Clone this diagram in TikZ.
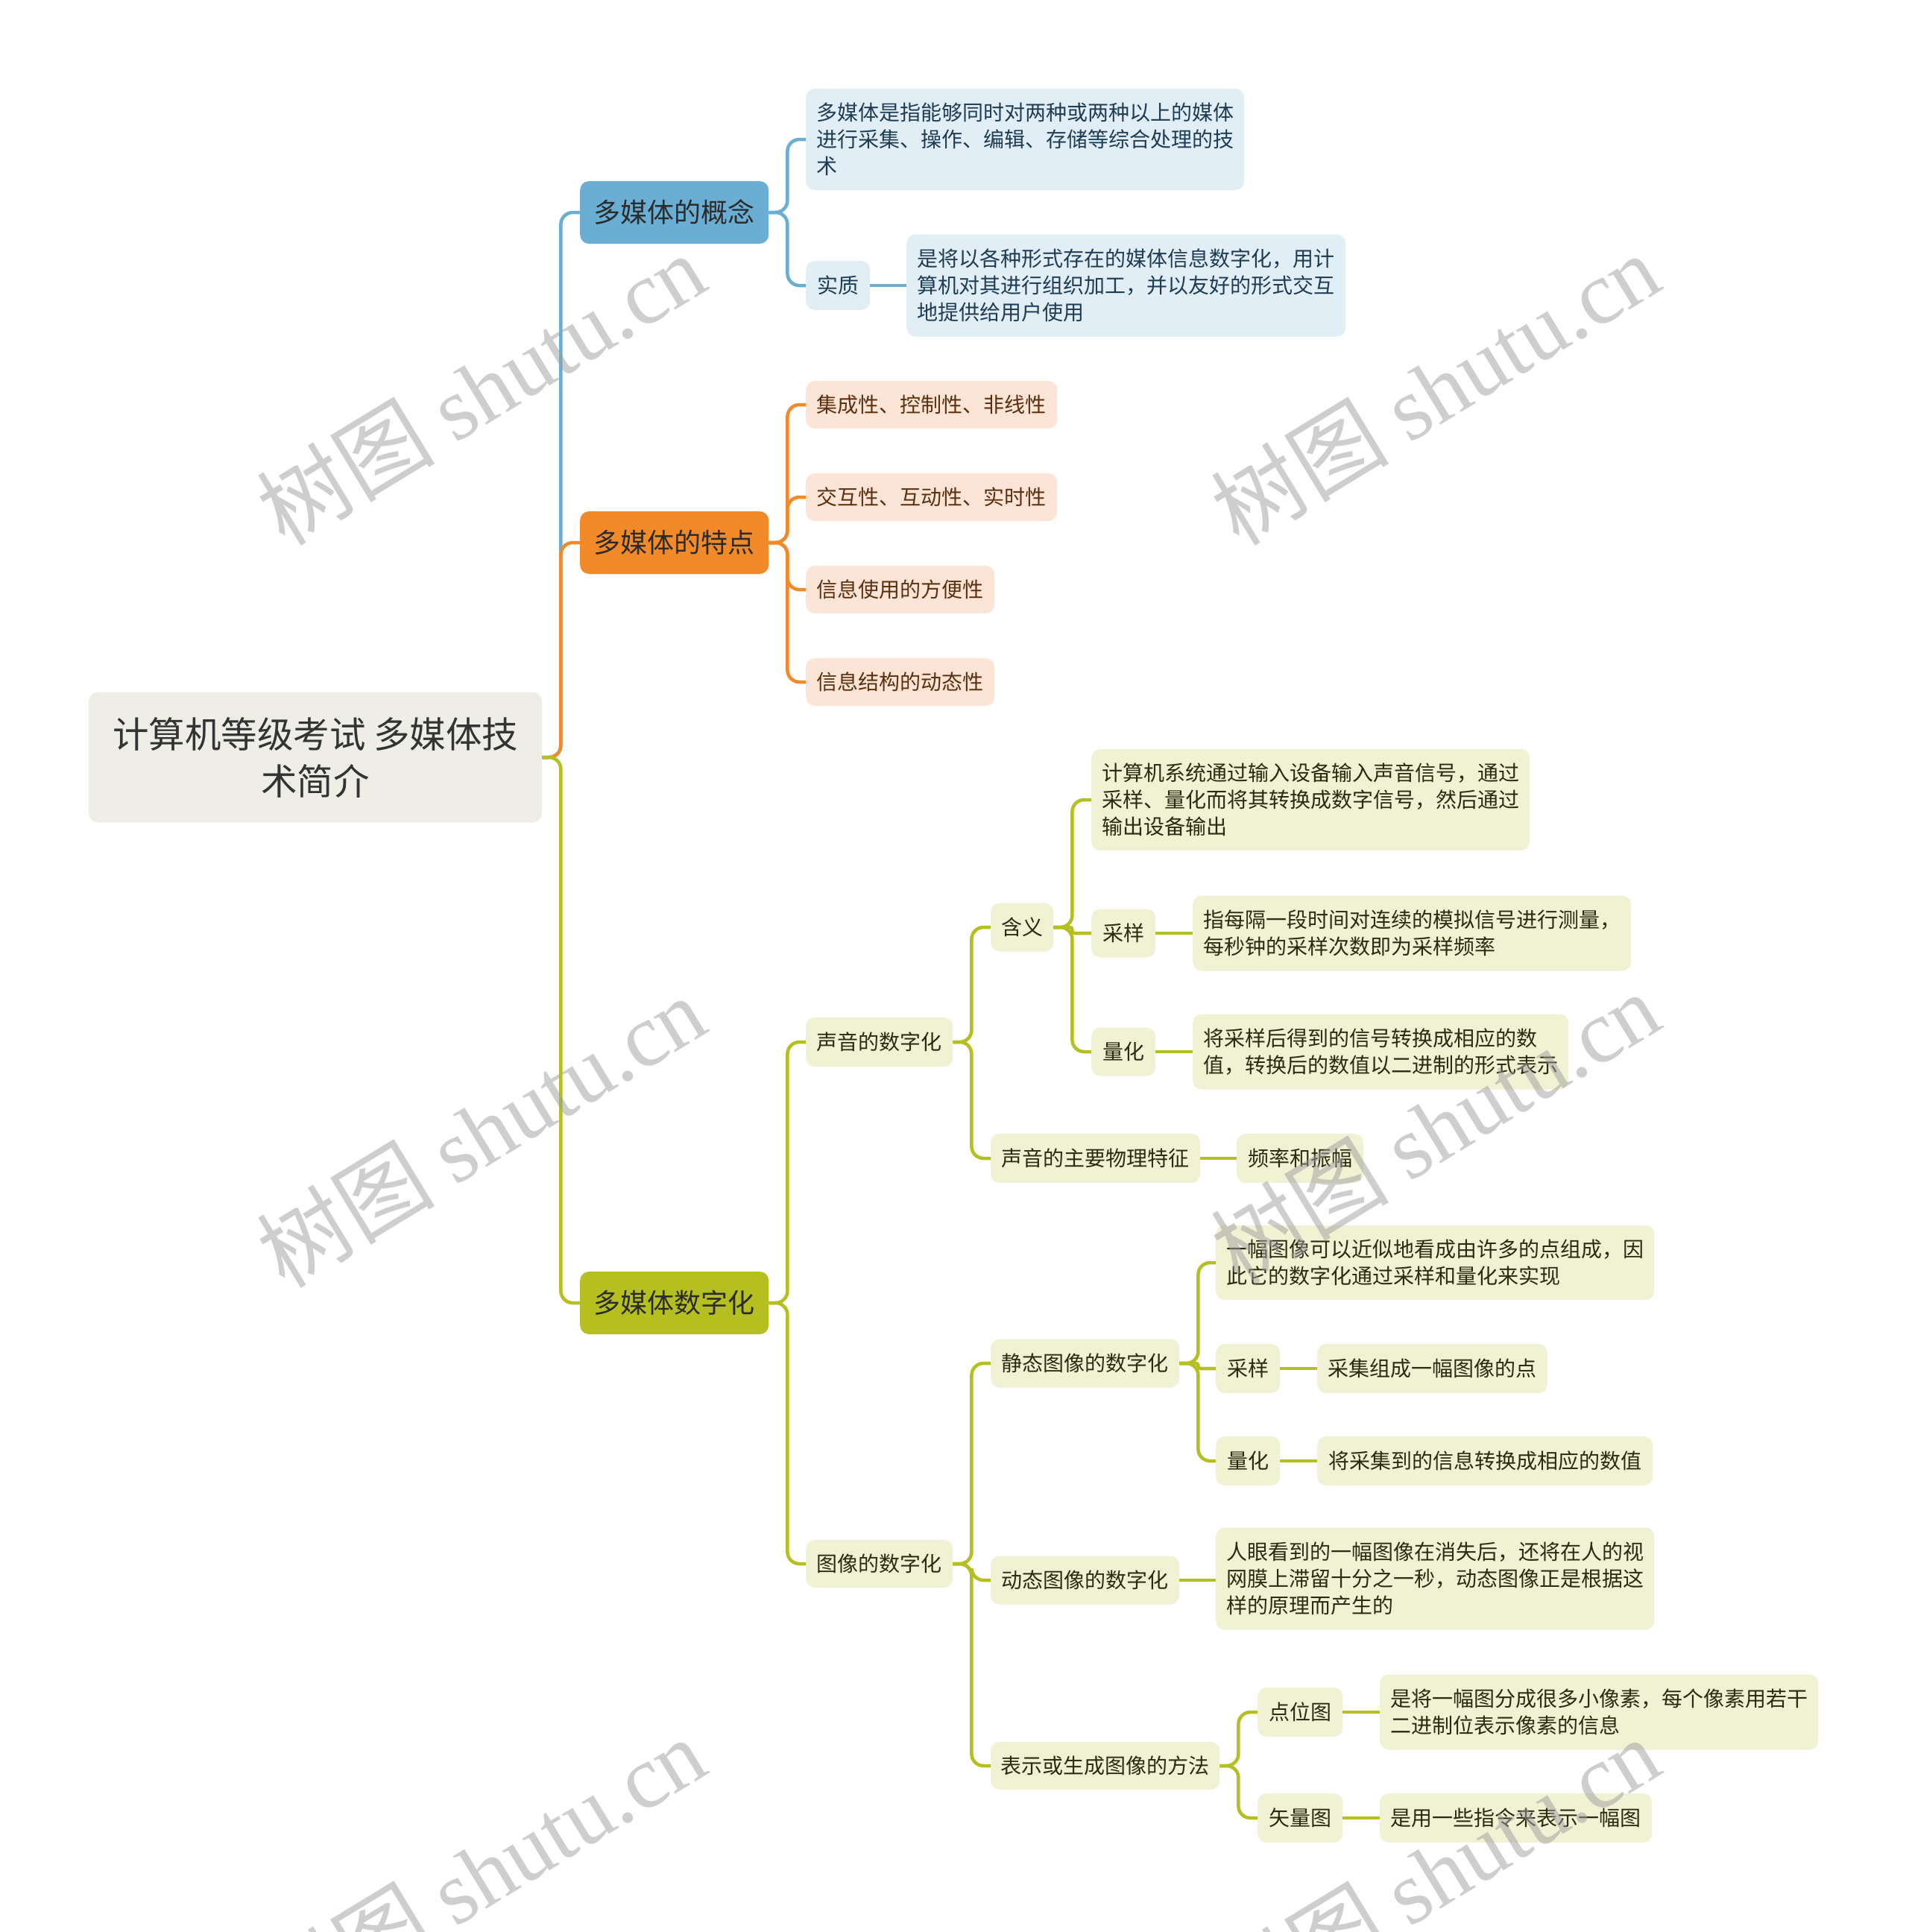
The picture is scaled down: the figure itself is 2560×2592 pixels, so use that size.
\documentclass[tikz,border=0pt]{standalone}
\usepackage{fontspec}
\setmainfont{Noto Sans CJK SC}
\newfontfamily\wmlatin{Liberation Serif}
\definecolor{blueM}{HTML}{6AAED3}
\definecolor{blueL}{HTML}{E1EEF6}
\definecolor{blueT}{HTML}{1E3D55}
\definecolor{orangeM}{HTML}{F28A2A}
\definecolor{orangeL}{HTML}{FCE5D6}
\definecolor{orangeT}{HTML}{5C300F}
\definecolor{limeM}{HTML}{B5BF1F}
\definecolor{limeL}{HTML}{F0F2D3}
\definecolor{limeT}{HTML}{2B2B12}
\definecolor{rootF}{HTML}{EFEEE6}
\definecolor{rootT}{HTML}{333333}
\definecolor{mainT}{HTML}{2B2B2B}
\tikzset{
  box/.style={anchor=west, rounded corners=12, inner sep=0pt, align=left, draw=none},
  leaf/.style={box, font=\fontsize{28}{36}\selectfont},
  leafB/.style={leaf, fill=blueL, text=blueT},
  leafO/.style={leaf, fill=orangeL, text=orangeT},
  leafG/.style={leaf, fill=limeL, text=limeT},
  mainbox/.style={box, font=\fontsize{36}{42}\selectfont, text=mainT, minimum width=253, minimum height=84},
  rootbox/.style={box, align=center, fill=rootF, text=rootT, font=\fontsize{48.5}{63}\selectfont, minimum width=608, minimum height=175},
  con/.style={line width=4.5, rounded corners=16},
  conB/.style={con, draw=blueM},
  conO/.style={con, draw=orangeM},
  conG/.style={con, draw=limeM},
  tight/.style={rounded corners=3},
  wm/.style={rotate=31.3, text=black!38, opacity=0.5, font=\fontsize{120}{120}\selectfont, inner sep=0pt}
}
\newcommand\forkto[3]{\draw[#1] (#2.east) -- ++(25,0) |- (#3.west);}
\newcommand\straightto[3]{\draw[#1] (#2.east) -- (#2.east -| #3.west);}
\begin{document}
\begin{tikzpicture}[x=1pt,y=-1pt]
\fill[white] (0,0) rectangle (2560,2592);
\useasboundingbox (0,0) rectangle (2560,2592);

% root and main branches
\node[rootbox] (root) at (119,1016) {计算机等级考试 多媒体技\\术简介};
\node[mainbox, fill=blueM] (n1) at (778,285) {多媒体的概念};
\node[mainbox, fill=orangeM] (n2) at (778,728) {多媒体的特点};
\node[mainbox, fill=limeM] (n3) at (778,1748) {多媒体数字化};

% blue
\node[leafB, minimum width=588, minimum height=136] (b1) at (1081,187) {多媒体是指能够同时对两种或两种以上的媒体\\进行采集、操作、编辑、存储等综合处理的技\\术};
\node[leafB, minimum width=86, minimum height=66] (b2) at (1081,383) {实质};
\node[leafB, minimum width=589, minimum height=137] (b2a) at (1216,383) {是将以各种形式存在的媒体信息数字化，用计\\算机对其进行组织加工，并以友好的形式交互\\地提供给用户使用};

% orange
\node[leafO, minimum width=337, minimum height=64] (o1) at (1081,543) {集成性、控制性、非线性};
\node[leafO, minimum width=337, minimum height=64] (o2) at (1081,667) {交互性、互动性、实时性};
\node[leafO, minimum width=253, minimum height=64] (o3) at (1081,791) {信息使用的方便性};
\node[leafO, minimum width=253, minimum height=64] (o4) at (1081,915) {信息结构的动态性};

% lime - sound
\node[leafG, minimum width=197, minimum height=66] (g1) at (1081,1398) {声音的数字化};
\node[leafG, minimum width=84, minimum height=65] (g11) at (1329,1244) {含义};
\node[leafG, minimum width=588, minimum height=136] (g111) at (1464,1073) {计算机系统通过输入设备输入声音信号，通过\\采样、量化而将其转换成数字信号，然后通过\\输出设备输出};
\node[leafG, minimum width=86, minimum height=65] (g112) at (1464,1252) {采样};
\node[leafG, minimum width=588, minimum height=101] (g112a) at (1600,1252) {指每隔一段时间对连续的模拟信号进行测量，\\每秒钟的采样次数即为采样频率};
\node[leafG, minimum width=86, minimum height=65] (g113) at (1464,1411) {量化};
\node[leafG, minimum width=504, minimum height=101] (g113a) at (1600,1411) {将采样后得到的信号转换成相应的数\\值，转换后的数值以二进制的形式表示};
\node[leafG, minimum width=281, minimum height=66] (g12) at (1329,1554) {声音的主要物理特征};
\node[leafG, minimum width=170, minimum height=66] (g12a) at (1659,1554) {频率和振幅};

% lime - image
\node[leafG, minimum width=197, minimum height=64] (g2) at (1081,2098) {图像的数字化};
\node[leafG, minimum width=253, minimum height=65] (g21) at (1329,1829) {静态图像的数字化};
\node[leafG, minimum width=588, minimum height=100] (g211) at (1631,1694) {一幅图像可以近似地看成由许多的点组成，因\\此它的数字化通过采样和量化来实现};
\node[leafG, minimum width=86, minimum height=66] (g212) at (1631,1836) {采样};
\node[leafG, minimum width=309, minimum height=66] (g212a) at (1767,1836) {采集组成一幅图像的点};
\node[leafG, minimum width=86, minimum height=66] (g213) at (1631,1960) {量化};
\node[leafG, minimum width=450, minimum height=66] (g213a) at (1767,1960) {将采集到的信息转换成相应的数值};
\node[leafG, minimum width=253, minimum height=65] (g22) at (1329,2120) {动态图像的数字化};
\node[leafG, minimum width=588, minimum height=137] (g22a) at (1631,2118) {人眼看到的一幅图像在消失后，还将在人的视\\网膜上滞留十分之一秒，动态图像正是根据这\\样的原理而产生的};
\node[leafG, minimum width=307, minimum height=64] (g23) at (1329,2369) {表示或生成图像的方法};
\node[leafG, minimum width=114, minimum height=66] (g231) at (1687,2297) {点位图};
\node[leafG, minimum width=588, minimum height=101] (g231a) at (1851,2297) {是将一幅图分成很多小像素，每个像素用若干\\二进制位表示像素的信息};
\node[leafG, minimum width=114, minimum height=66] (g232) at (1687,2439) {矢量图};
\node[leafG, minimum width=365, minimum height=66] (g232a) at (1851,2439) {是用一些指令来表示一幅图};

% connectors
\forkto{conB}{root}{n1}
\forkto{conO}{root}{n2}
\forkto{conG}{root}{n3}
\forkto{conB}{n1}{b1}
\forkto{conB}{n1}{b2}
\straightto{conB}{b2}{b2a}
\forkto{conO}{n2}{o1}
\forkto{conO}{n2}{o2}
\forkto{conO}{n2}{o3}
\forkto{conO}{n2}{o4}
\forkto{conG}{n3}{g1}
\forkto{conG}{n3}{g2}
\forkto{conG}{g1}{g11}
\forkto{conG}{g1}{g12}
\forkto{conG}{g11}{g111}
\forkto{conG,tight}{g11}{g112}
\forkto{conG}{g11}{g113}
\straightto{conG}{g112}{g112a}
\straightto{conG}{g113}{g113a}
\straightto{conG}{g12}{g12a}
\forkto{conG}{g2}{g21}
\forkto{conG}{g2}{g22}
\forkto{conG}{g2}{g23}
\forkto{conG}{g21}{g211}
\forkto{conG,tight}{g21}{g212}
\forkto{conG}{g21}{g213}
\straightto{conG}{g212}{g212a}
\straightto{conG}{g213}{g213a}
\straightto{conG}{g22}{g22a}
\forkto{conG}{g23}{g231}
\forkto{conG}{g23}{g232}
\straightto{conG}{g231}{g231a}
\straightto{conG}{g232}{g232a}

% watermarks
\begin{scope}
\clip (0,0) rectangle (2560,2592);
\node[wm] (wm1) at (645,521) {树图 {\wmlatin shutu.cn}};
\node[wm] (wm2) at (1925,521) {树图 {\wmlatin shutu.cn}};
\node[wm] (wm3) at (645,1517) {树图 {\wmlatin shutu.cn}};
\node[wm] (wm4) at (1925,1512) {树图 {\wmlatin shutu.cn}};
\node[wm] (wm5) at (645,2512) {树图 {\wmlatin shutu.cn}};
\node[wm] (wm6) at (1925,2512) {树图 {\wmlatin shutu.cn}};
\end{scope}
\end{tikzpicture}
\end{document}
